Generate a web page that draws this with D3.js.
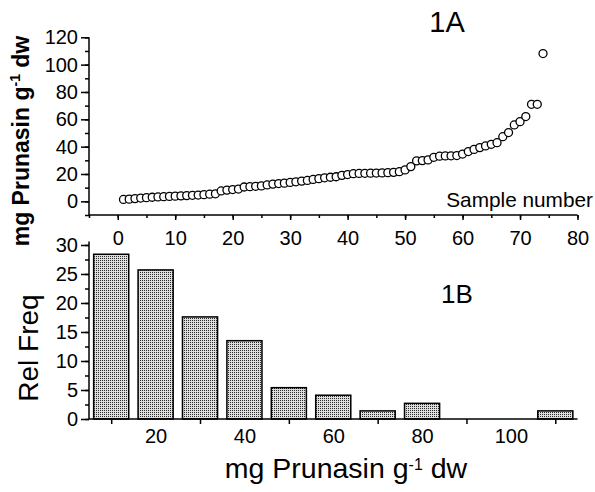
<!DOCTYPE html>
<html>
<head>
<meta charset="utf-8">
<script src="https://cdn.jsdelivr.net/npm/d3@7"></script>
<style>
  body { margin: 0; background: #fff; }
  svg { font-family: "Liberation Sans", Arial, sans-serif; }
  .axis path, .axis line { stroke: #000; stroke-width: 1.5; }
  .axis text { font-size: 20px; fill: #000; }
</style>
</head>
<body>
<svg id="chart" width="595" height="492"></svg>
<script>
// 1A: prunasin content of each sample, sorted ascending (sample number = index + 1)
const prunasin = [1.4, 1.6, 2.0, 2.4, 2.7, 3.0, 3.2, 3.4, 3.6, 3.8,
  4.0, 4.2, 4.4, 4.6, 4.9, 5.2, 5.5, 7.6, 8.2, 8.6,
  9.0, 10.5, 10.7, 11.0, 11.3, 12.0, 12.6, 13.0, 13.3, 13.8,
  14.3, 14.8, 15.3, 16.0, 16.6, 17.2, 17.6, 18.0, 19.0, 19.6,
  20.2, 20.4, 20.5, 20.6, 20.7, 20.8, 21.0, 21.2, 21.7, 23.0,
  25.4, 29.6, 29.8, 30.3, 32.2, 33.0, 33.2, 33.3, 33.5, 34.6,
  36.4, 38.0, 39.3, 40.5, 41.7, 42.9, 47.3, 50.3, 55.9, 58.3,
  62.0, 71.0, 71.0, 108.1]

// 1B: relative frequency (%) per class, bars at the class upper bound
const binMark = [10, 20, 30, 40, 50, 60, 70, 80, 110]
const relFreq = [28.4, 25.7, 17.6, 13.5, 5.4, 4.1, 1.4, 2.7, 1.4]

const topXTicks = [0, 10, 20, 30, 40, 50, 60, 70, 80]
const topYTicks = [0, 20, 40, 60, 80, 100, 120]
const botYTicks = [0, 5, 10, 15, 20, 25, 30]
const botXLabels = [20, 40, 60, 80, 100]
const botXTicks = [10, 30, 50, 70, 90, 110]

const svg = d3.select("#chart")

// pattern for the stippled bars
const pat = svg.append("defs").append("pattern")
    .attr("id", "dots")
    .attr("patternUnits", "userSpaceOnUse")
    .attr("width", 2).attr("height", 2)
pat.append("rect").attr("width", 2).attr("height", 2).attr("fill", "#dedede")
pat.append("rect").attr("width", 1).attr("height", 1).attr("fill", "#2a2a2a")

// ---------- 1A ----------
const xA = d3.scaleLinear().domain([-5, 80]).range([89, 577.5])
const yA = d3.scaleLinear().domain([-10, 120]).range([215, 37.3])

const axA = svg.append("g").attr("class", "axis").attr("transform", "translate(0,215)")
axA.call(d3.axisBottom(xA).tickValues(d3.range(-5, 81, 5)).tickSize(3).tickFormat(""))
axA.select(".domain").attr("d", `M${xA.range()[0]},0H${xA.range()[1]}`)
const axA2 = svg.append("g").attr("class", "axis").attr("transform", "translate(0,215)")
axA2.call(d3.axisBottom(xA).tickValues(topXTicks).tickSize(5).tickPadding(11))
axA2.select(".domain").remove()

const ayA = svg.append("g").attr("class", "axis").attr("transform", "translate(89,0)")
ayA.call(d3.axisLeft(yA).tickValues(d3.range(-10, 121, 10)).tickSize(4).tickFormat(""))
ayA.select(".domain").attr("d", `M0,${yA.range()[0]}V${yA.range()[1]}`)
const ayA2 = svg.append("g").attr("class", "axis").attr("transform", "translate(89,0)")
ayA2.call(d3.axisLeft(yA).tickValues(topYTicks).tickSize(8).tickPadding(3))
ayA2.select(".domain").remove()

svg.append("g")
  .selectAll("circle")
  .data(prunasin)
  .join("circle")
    .attr("cx", (d, i) => xA(i + 1))
    .attr("cy", d => yA(d))
    .attr("r", 4)
    .attr("fill", "#fff")
    .attr("stroke", "#000")
    .attr("stroke-width", 1.3)

svg.append("text").attr("x", 447).attr("y", 32).attr("text-anchor", "middle")
    .attr("font-size", 29).text("1A")
svg.append("text").attr("x", 593).attr("y", 207).attr("text-anchor", "end")
    .attr("font-size", 20.8).text("Sample number")

const ylabA = svg.append("text")
    .attr("transform", "translate(29,141) rotate(-90)")
    .attr("text-anchor", "middle")
    .attr("font-size", 23).attr("font-weight", "bold")
ylabA.append("tspan").text("mg Prunasin g")
ylabA.append("tspan").attr("font-size", 14).attr("dy", -9).text("-1")
ylabA.append("tspan").attr("dy", 9).text(" dw")

// ---------- 1B ----------
const xB = d3.scaleLinear().domain([5, 115]).range([89, 577.5])
const yB = d3.scaleLinear().domain([0, 30.6]).range([419, 241.5])
const barW = xB(17.9) - xB(10)

svg.append("g")
  .selectAll("rect")
  .data(relFreq)
  .join("rect")
    .attr("x", (d, i) => xB(binMark[i]) - barW / 2)
    .attr("y", d => yB(d))
    .attr("width", barW)
    .attr("height", d => yB(0) - yB(d))
    .attr("fill", "url(#dots)")
    .attr("stroke", "#000")
    .attr("stroke-width", 1.5)

const axB = svg.append("g").attr("class", "axis").attr("transform", "translate(0,419)")
axB.call(d3.axisBottom(xB).tickValues(botXTicks).tickSize(5).tickFormat(""))
axB.select(".domain").attr("d", `M${xB.range()[0]},0H${xB.range()[1]}`)
const axB2 = svg.append("g").attr("class", "axis").attr("transform", "translate(0,419)")
axB2.call(d3.axisBottom(xB).tickValues(botXLabels).tickSize(0).tickPadding(10))
axB2.select(".domain").remove()

const ayB = svg.append("g").attr("class", "axis").attr("transform", "translate(89,0)")
ayB.call(d3.axisLeft(yB).tickValues(d3.range(0, 30.1, 2.5)).tickSize(4).tickFormat(""))
ayB.select(".domain").attr("d", `M0,${yB.range()[0]}V${yB.range()[1]}`)
const ayB2 = svg.append("g").attr("class", "axis").attr("transform", "translate(89,0)")
ayB2.call(d3.axisLeft(yB).tickValues(botYTicks).tickSize(8).tickPadding(3))
ayB2.select(".domain").remove()

svg.append("text").attr("x", 457).attr("y", 303).attr("text-anchor", "middle")
    .attr("font-size", 26).text("1B")

svg.append("text")
    .attr("transform", "translate(38,348) rotate(-90)")
    .attr("text-anchor", "middle")
    .attr("font-size", 28).text("Rel Freq")

const xlabB = svg.append("text")
    .attr("x", 346).attr("y", 478)
    .attr("text-anchor", "middle")
    .attr("font-size", 28.5)
xlabB.append("tspan").text("mg Prunasin g")
xlabB.append("tspan").attr("font-size", 16).attr("dy", -8).text("-1")
xlabB.append("tspan").attr("dy", 8).text(" dw")
</script>
</body>
</html>
